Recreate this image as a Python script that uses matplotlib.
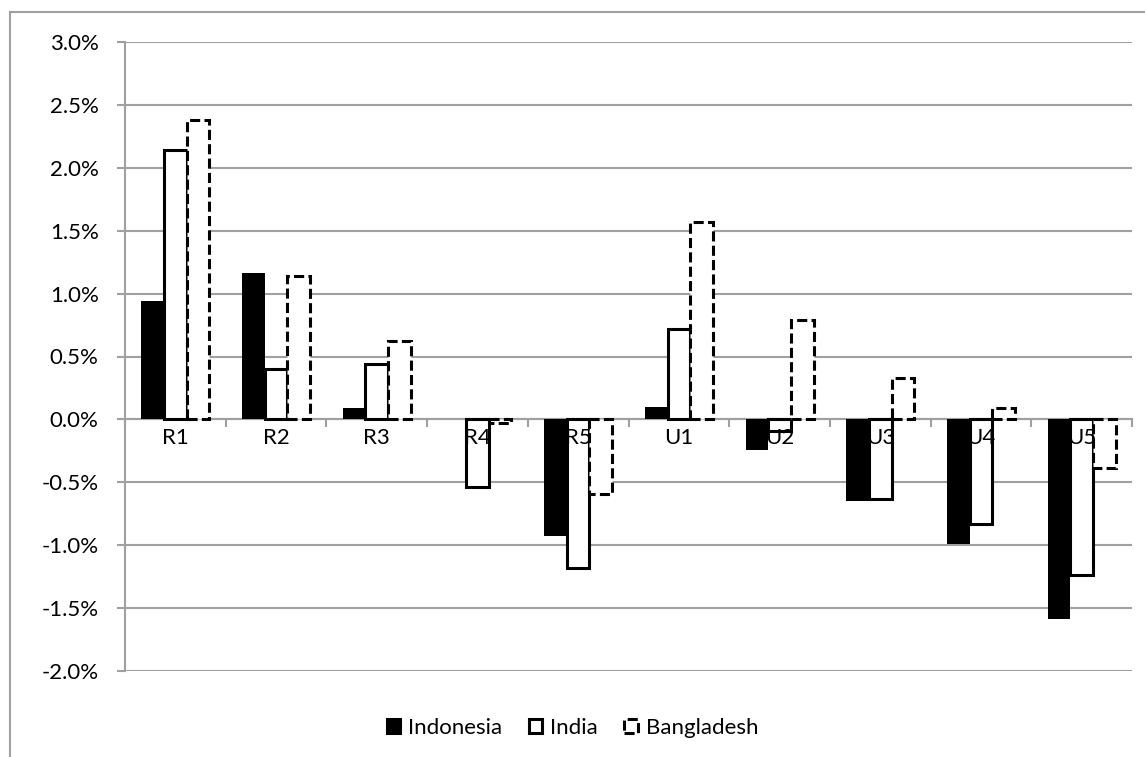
import matplotlib.pyplot as plt
from matplotlib.patches import Rectangle
from matplotlib.ticker import FuncFormatter
import numpy as np

categories = ['R1', 'R2', 'R3', 'R4', 'R5', 'U1', 'U2', 'U3', 'U4', 'U5']
indonesia = [0.94, 1.16, 0.09, 0.00, -0.93, 0.10, -0.24, -0.65, -0.99, -1.59]
india = [2.14, 0.40, 0.44, -0.54, -1.18, 0.72, -0.095, -0.63, -0.83, -1.24]
bangladesh = [2.38, 1.14, 0.62, -0.03, -0.59, 1.57, 0.79, 0.33, 0.09, -0.39]
series_names = ['Indonesia', 'India', 'Bangladesh']

plt.rcParams['font.family'] = ['Lato', 'DejaVu Sans']
grid_col = '#a0a0a0'
dash = (0, (3.3, 1.4))
fs = 16

fig = plt.figure(figsize=(11.45, 7.57), dpi=100)
ax = fig.add_axes([125/1145, 1 - 671/757, (1132-125)/1145, (671-42)/757])

x = np.arange(len(categories))
w = 0.225
lw = 2.2
ax.bar(x - w, indonesia, w, color='black', edgecolor='black', linewidth=0, zorder=3)
ax.bar(x, india, w, color='white', edgecolor='black', linewidth=lw, zorder=3)
ax.bar(x + w, bangladesh, w, color='white', edgecolor='black', linewidth=lw,
       linestyle=dash, zorder=3)

ax.set_xlim(-0.5, len(categories) - 0.5)
ax.set_ylim(-2.0, 3.0)
ax.set_yticks(np.arange(-2.0, 3.01, 0.5))
ax.yaxis.set_major_formatter(FuncFormatter(lambda v, p: f'{v:.1f}%'))
ax.grid(axis='y', color=grid_col, linewidth=1.5, zorder=0)
ax.set_axisbelow(True)

for s in ['top', 'right']:
    ax.spines[s].set_visible(False)
ax.spines['bottom'].set_position(('data', 0))
ax.spines['bottom'].set_color(grid_col)
ax.spines['bottom'].set_linewidth(1.5)
ax.spines['left'].set_color(grid_col)
ax.spines['left'].set_linewidth(1.5)

ax.set_xticks(x)
ax.set_xticklabels(categories)
ax.set_xticks(np.arange(-0.5, len(categories), 1.0), minor=True)
ax.tick_params(axis='x', which='major', length=0, pad=6, labelsize=fs)
ax.tick_params(axis='x', which='minor', length=6, width=1.5, color=grid_col, direction='out')
ax.tick_params(axis='y', length=6, width=1.5, color=grid_col, pad=13, labelsize=fs)
# category labels sit on top of the bars, like Excel does
ax.xaxis.set_zorder(4)

handles = [
    Rectangle((0, 0), 1, 1, facecolor='black', edgecolor='black', linewidth=lw),
    Rectangle((0, 0), 1, 1, facecolor='white', edgecolor='black', linewidth=lw),
    Rectangle((0, 0), 1, 1, facecolor='white', edgecolor='black', linewidth=lw, linestyle=dash),
]
fig.legend(handles, series_names, loc='center', bbox_to_anchor=(0.5, 1 - 728/757),
           ncol=3, frameon=False, fontsize=fs, handlelength=0.6, handleheight=0.6,
           handletextpad=0.35, columnspacing=1.2)

fig.add_artist(Rectangle((9.5/1145, -0.02), 1.0, 1 - 12/757 + 0.02, fill=False,
                         edgecolor=grid_col, linewidth=1.5, transform=fig.transFigure))

fig.savefig('out.png', dpi=100)
